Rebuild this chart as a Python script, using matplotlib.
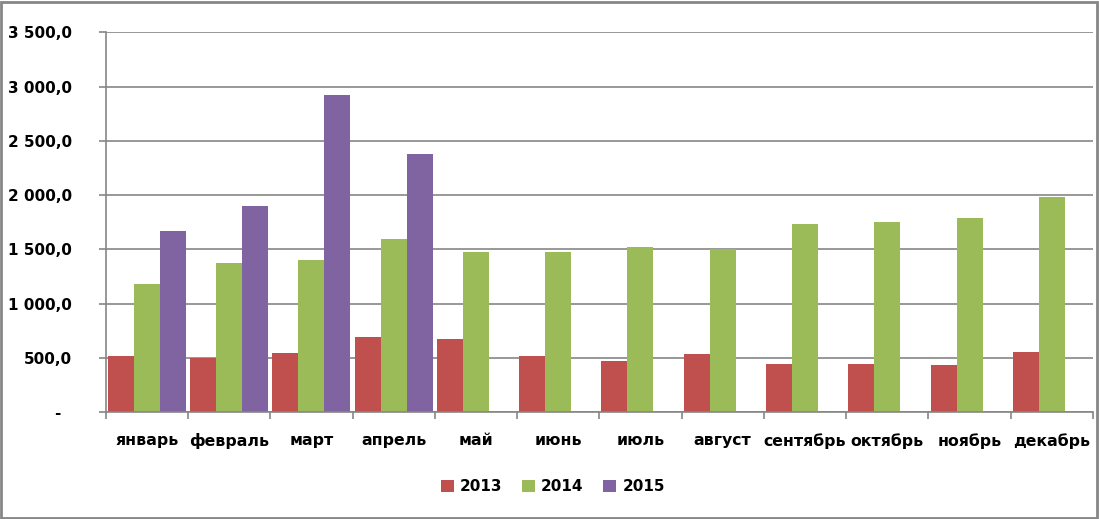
import matplotlib
matplotlib.use("Agg")
import matplotlib.pyplot as plt
import numpy as np
from matplotlib.patches import Rectangle
from matplotlib.ticker import FuncFormatter, FixedLocator

months = ["январь", "февраль", "март", "апрель", "май", "июнь",
          "июль", "август", "сентябрь", "октябрь", "ноябрь", "декабрь"]
years = ["2013", "2014", "2015"]
v2013 = [521, 503, 549, 697, 679, 521, 475, 540, 447, 447, 438, 558]
v2014 = [1179, 1373, 1401, 1595, 1475, 1475, 1521, 1503, 1734, 1753, 1790, 1984]
v2015 = [1669, 1901, 2919, 2382, np.nan, np.nan, np.nan, np.nan, np.nan, np.nan, np.nan, np.nan]
colors = ["#C0504D", "#9BBB59", "#8064A2"]

plt.rcParams['font.family'] = ['DejaVu Sans']
plt.rcParams['font.weight'] = 'bold'

fig = plt.figure(figsize=(10.99, 5.19), dpi=100)
ax = fig.add_axes([0.0962, 0.2056, 0.8983, 0.7322])

x = np.arange(len(months))
w = 0.316
for k, vals in enumerate([v2013, v2014, v2015]):
    ax.bar(x + (k - 1) * w, vals, width=w, color=colors[k], label=years[k], zorder=3)

ax.set_xlim(-0.5, 11.5)
ax.set_ylim(0, 3500)
ax.set_yticks(np.arange(0, 3501, 500))

def fmt(v, pos):
    if v == 0:
        return "-  "
    s = "{:,.1f}".format(v).replace(",", " ").replace(".", ",")
    return s

ax.yaxis.set_major_formatter(FuncFormatter(fmt))
ax.grid(axis="y", color="#868686", linewidth=1.2, zorder=0)

ax.set_xticks(x)
ax.set_xticklabels(months)
ax.xaxis.set_minor_locator(FixedLocator(np.arange(-0.5, 12, 1)))
ax.tick_params(axis="x", which="major", length=0, pad=15, labelsize=11.3)
ax.tick_params(axis="x", which="minor", length=5, width=1.2, color="#868686")
ax.tick_params(axis="y", length=5, width=1.2, color="#868686", pad=19.5, labelsize=11)

for s in ["top", "right"]:
    ax.spines[s].set_visible(False)
for s in ["left", "bottom"]:
    ax.spines[s].set_color("#868686")
    ax.spines[s].set_linewidth(1.2)
ax.spines["bottom"].set_zorder(4)

leg = ax.legend(loc="center", bbox_to_anchor=(0.503, 0.0617), bbox_transform=fig.transFigure,
                ncol=3, frameon=False, fontsize=11, handlelength=0.85, handleheight=0.85,
                handletextpad=0.4, columnspacing=1.3)

fig.patches.append(Rectangle((0.001, 0.002), 0.997, 0.995, transform=fig.transFigure,
                             fill=False, edgecolor="#868686", linewidth=2))

fig.savefig("out.png", dpi=100)
